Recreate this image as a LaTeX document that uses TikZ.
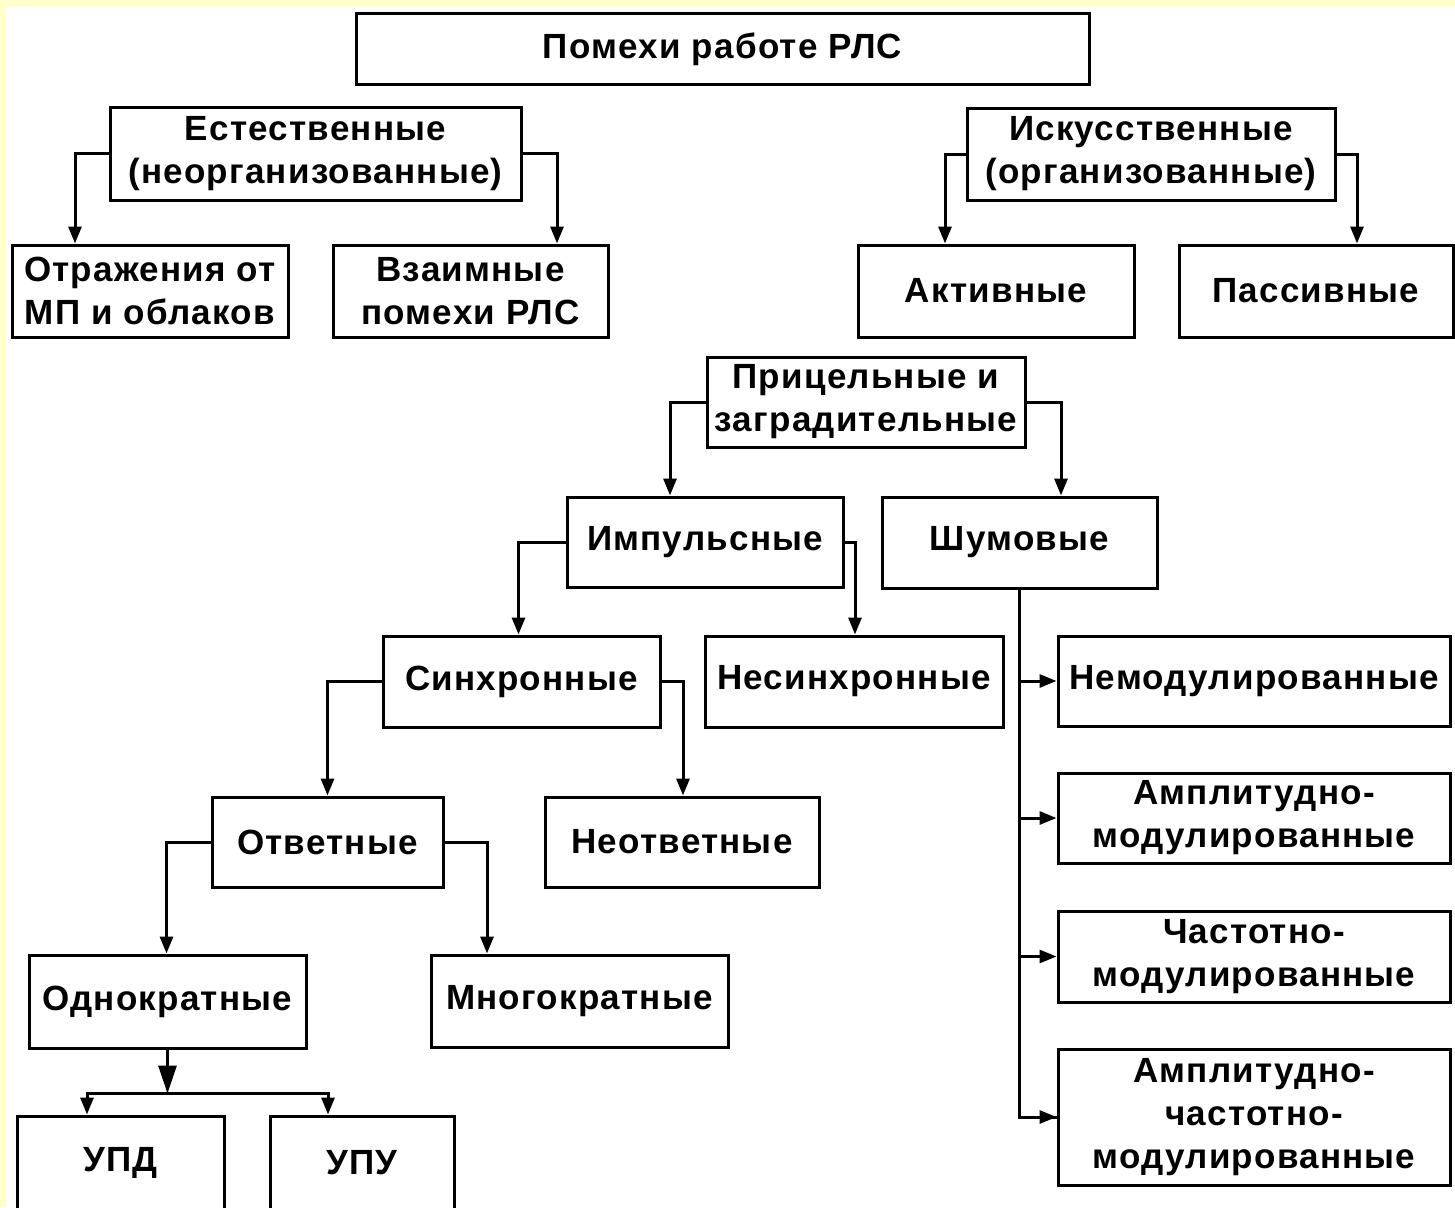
\documentclass[tikz,border=0pt]{standalone}
\usepackage{fontspec}
\setmainfont{Liberation Sans}[LetterSpace=3.5]
\usetikzlibrary{arrows.meta}
\definecolor{bgyellow}{RGB}{255,255,204}
\tikzset{
  box/.style={draw=black, line width=3pt, fill=white, rectangle, align=center,
    inner sep=0pt, font=\fontsize{35}{43}\selectfont\bfseries, text=black},
  link/.style={draw=black, line width=3pt, line join=miter},
  arr/.style={link, -{Triangle[length=17pt,width=13pt]}},
  bigarr/.style={link, -{Triangle[length=28pt,width=18pt]}}
}
\begin{document}
\begin{tikzpicture}[x=1pt,y=-1pt]
\useasboundingbox (0,0) rectangle (1455,1207);
\fill[bgyellow] (0,0) rectangle (1455,1207);
\fill[white] (6,7) rectangle (1455,1207);

% level 0
\node[box, minimum width=733, minimum height=70] (top) at (722.5,49) {Помехи работе РЛС};
% level 1
\node[box, minimum width=411, minimum height=93] (est) at (315.5,153.5) {Естественные\\(неорганизованные)};
\node[box, minimum width=368, minimum height=92] (isk) at (1151,154) {Искусственные\\(организованные)};
% level 2
\node[box, minimum width=276, minimum height=92] (otr) at (150,291) {Отражения от\\МП и облаков};
\node[box, minimum width=275, minimum height=92] (vz) at (470.5,291) {Взаимные\\помехи РЛС};
\node[box, minimum width=276, minimum height=92] (act) at (996,291) {Активные};
\node[box, minimum width=274, minimum height=92] (pas) at (1316,291) {Пассивные};
% level 3
\node[box, minimum width=318, minimum height=90] (pri) at (866,402) {Прицельные и\\заградительные};
\node[box, minimum width=276, minimum height=90] (imp) at (705,542) {Импульсные};
\node[box, minimum width=275, minimum height=91] (shum) at (1019.5,542.5) {Шумовые};
\node[box, minimum width=277, minimum height=91] (sin) at (521.5,681.5) {Синхронные};
\node[box, minimum width=298, minimum height=91] (nesin) at (854,681.5) {Несинхронные};
\node[box, minimum width=392, minimum height=90] (nemod) at (1254,681) {Немодулированные};
\node[box, minimum width=392, minimum height=90] (amod) at (1254,818) {Амплитудно-\\модулированные};
\node[box, minimum width=392, minimum height=91] (chmod) at (1254,956.5) {Частотно-\\модулированные};
\node[box, minimum width=392, minimum height=136] (achmod) at (1254,1117) {Амплитудно-\\частотно-\\модулированные};
\node[box, minimum width=231, minimum height=90] (otv) at (327.5,842) {Ответные};
\node[box, minimum width=274, minimum height=90] (neotv) at (682,842) {Неответные};
\node[box, minimum width=277, minimum height=93] (odn) at (167.5,1001.5) {Однократные};
\node[box, minimum width=297, minimum height=92] (mnog) at (579.5,1001) {Многократные};
\node[box, minimum width=207, minimum height=94] (upd) at (120.5,1163) {УПД};
\node[box, minimum width=184, minimum height=94] (upu) at (362,1163) {УПУ};

% connectors
\draw[arr] (est.west) -| ([xshift=-75pt]otr.north);
\draw[arr] (est.east) -| ([xshift=86.5pt]vz.north);
\draw[arr] (isk.west) -| ([xshift=-51pt]act.north);
\draw[arr] (isk.east) -| ([xshift=41pt]pas.north);
\draw[arr] (pri.west) -| ([xshift=-35pt]imp.north);
\draw[arr] (pri.east) -| ([xshift=41.5pt]shum.north);
\draw[arr] (imp.west) -| ([xshift=-3pt]sin.north);
\draw[arr] (imp.east) -| ([xshift=1pt]nesin.north);
\draw[arr] (sin.west) -| (otv.north);
\draw[arr] (sin.east) -| ([xshift=1pt]neotv.north);
\draw[arr] (otv.west) -| ([xshift=-1pt]odn.north);
\draw[arr] (otv.east) -| ([xshift=-92.5pt]mnog.north);

% noise trunk
\draw[link] (shum.south) |- (achmod.west);
\draw[arr] (shum.south |- nemod.west) -- (nemod.west);
\draw[arr] (shum.south |- amod.west) -- (amod.west);
\draw[arr] (shum.south |- chmod.west) -- (chmod.west);
\draw[arr] (shum.south |- achmod.west) -- (achmod.west);

% single-shot split
\coordinate (j) at ([yshift=-44pt]odn.south);
\draw[bigarr] (odn.south) -- (j);
\draw[arr] (j) -| ([xshift=-33.5pt]upd.north);
\draw[arr] (j) -| ([xshift=-34pt]upu.north);
\end{tikzpicture}
\end{document}
